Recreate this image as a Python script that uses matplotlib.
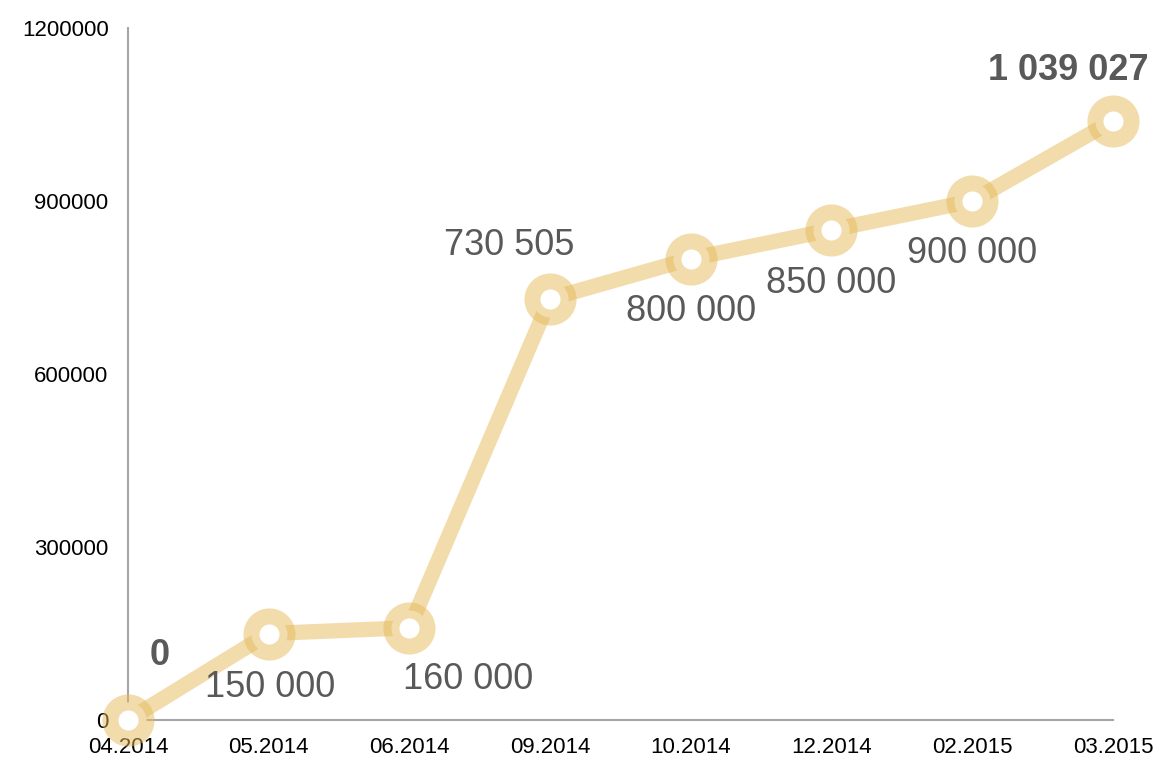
import matplotlib.pyplot as plt

plt.rcParams['font.family'] = ['Liberation Sans', 'DejaVu Sans']

# data
months = ["04.2014", "05.2014", "06.2014", "09.2014", "10.2014",
          "12.2014", "02.2015", "03.2015"]
values = [0, 150000, 160000, 730505, 800000, 850000, 900000, 1039027]
labels = ["0", "150 000", "160 000", "730 505", "800 000",
          "850 000", "900 000", "1 039 027"]
# label offsets in pixels (dx, dy) relative to each point, and bold flags
offsets = [(32, 65), (1, -54), (59, -52), (-41, 53), (0, -53),
           (0, -54), (0, -53), (-45, 50)]
bold = [True, False, False, False, False, False, False, True]

gold = (0.90, 0.73, 0.35)

fig = plt.figure(figsize=(11.56, 7.58), dpi=100)
ax = fig.add_axes([0.1107, 0.0501, 0.852, 0.913])

x = list(range(len(months)))
ax.plot(x, values, color=gold, alpha=0.5, lw=11, solid_capstyle='butt',
        clip_on=False, zorder=2)
ax.plot(x, values, ls='none', marker='o', ms=26, mew=11.5,
        mec=gold + (0.5,), mfc='white', clip_on=False, zorder=3)

for xi, v, t, (dx, dy), b in zip(x, values, labels, offsets, bold):
    ax.annotate(t, (xi, v), xytext=(dx * 0.72, dy * 0.72),
                textcoords='offset points', ha='center', va='center',
                fontsize=26, color='#595959',
                fontweight='bold' if b else 'normal', zorder=4)

ax.set_xlim(0, len(months) - 1)
ax.set_ylim(0, 1200000)
ax.set_xticks(x)
ax.set_xticklabels(months)
ax.set_yticks([0, 300000, 600000, 900000, 1200000])
ax.set_yticklabels(["0", "300000", "600000", "900000", "1200000"])
ax.tick_params(length=0, labelsize=16)
ax.tick_params(axis='y', pad=14)
ax.tick_params(axis='x', pad=12)

for s in ['top', 'right']:
    ax.spines[s].set_visible(False)
for s in ['left', 'bottom']:
    ax.spines[s].set_color('#a6a6a6')
    ax.spines[s].set_linewidth(1.5)

fig.savefig('out.png', dpi=100)
